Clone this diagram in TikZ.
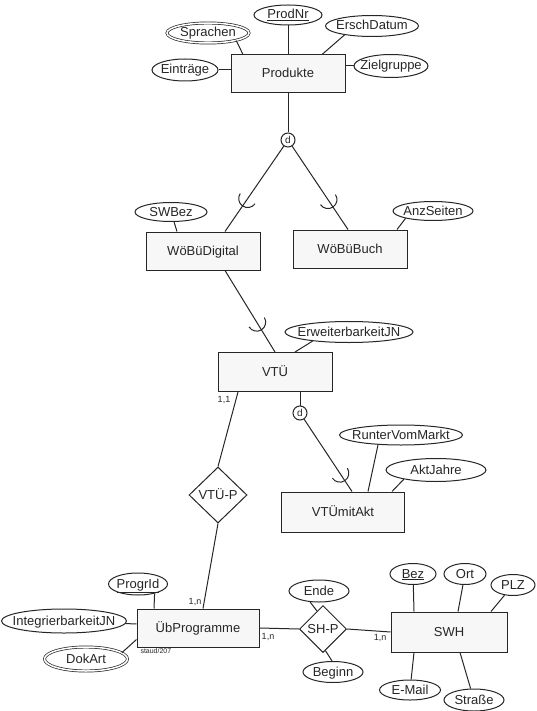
\documentclass[tikz,border=0pt]{standalone}
\usepackage{fontspec}
\setmainfont{Liberation Sans}
\usetikzlibrary{shapes.geometric, calc, decorations.markings}

\begin{document}
\begin{tikzpicture}[
    x=1pt, y=-1pt,
    line width=1pt, color=black!85,
    every node/.style={font=\fontsize{13}{15}\selectfont},
    entity/.style={rectangle, draw, fill=black!3, minimum width=114pt, minimum height=39pt, inner sep=0pt, text height=9pt, text depth=1pt},
    attr/.style={ellipse, draw, fill=white, minimum height=21pt, inner sep=0pt, text height=9pt, text depth=1pt,
        execute at begin node={\hbox to 0pt\bgroup\hss}, execute at end node={\hss\egroup}},
    multi/.style={attr, double, double distance=1.5pt, line width=0.7pt},
    rel/.style={diamond, draw, fill=white, inner sep=0pt, text height=9pt, text depth=1pt},
    disj/.style={circle, draw, fill=white, minimum size=14pt, inner sep=0pt, font=\fontsize{10}{12}\selectfont},
    card/.style={font=\fontsize{9}{11}\selectfont, inner sep=0pt},
    subset/.style={postaction={decorate}, decoration={markings, mark=at position #1 with {\draw (0pt,9pt) arc[start angle=90, delta angle=180, radius=9pt];}}},
]
\useasboundingbox (0,0) rectangle (536,711);

% Produkte with attributes
\node[entity, minimum height=38pt] (prod) at (288,74) {Produkte};
\node[attr, minimum width=68pt, minimum height=20pt] (prodnr) at (288,15) {\underline{ProdNr}};
\node[multi, minimum width=82pt, minimum height=20pt] (sprachen) at (208,33) {Sprachen};
\node[attr, minimum width=93pt] (ersch) at (372,26) {ErschDatum};
\node[attr, minimum width=66pt, minimum height=22pt] (eintr) at (185,70) {Einträge};
\node[attr, minimum width=74pt, minimum height=23pt] (zielgr) at (391,66) {Zielgruppe};

\draw (prodnr) -- (prod);
\draw (sprachen.-15) -- ([xshift=-45pt]prod.north);
\draw (ersch.198) -- ([xshift=34pt]prod.north);
\draw (eintr) -- (eintr -| prod.west);
\draw (zielgr) -- (zielgr -| prod.east);

% Specialisation of Produkte
\node[disj] (d1) at (288,140) {d};
\node[entity, minimum height=38pt] (wbd) at (203,251) {WöBüDigital};
\node[entity, minimum height=38pt] (wbb) at (350,249) {WöBüBuch};
\node[attr, minimum width=72pt, minimum height=19pt] (swbez) at (171,212) {SWBez};
\node[attr, minimum width=80pt, minimum height=19pt] (anzs) at (433,211) {AnzSeiten};

\draw (prod) -- (d1);
\draw[subset=40pt] ([xshift=22pt]wbd.north) -- (d1);
\draw[subset=36pt] ([xshift=-2pt]wbb.north) -- (d1);
\draw (swbez) -- ([xshift=-26pt]wbd.north);
\draw (anzs.195) -- ([xshift=47pt]wbb.north);

% VTÜ and its subclass
\node[entity] (vtu) at (275,372) {VTÜ};
\node[attr, minimum width=128pt] (erw) at (349,332) {ErweiterbarkeitJN};
\node[disj] (d2) at (300,413) {d};
\node[entity, minimum width=123pt, minimum height=40pt] (vtm) at (343,512) {VTÜmitAkt};
\node[attr, minimum width=123pt, minimum height=20pt] (runter) at (401,435) {RunterVomMarkt};
\node[attr, minimum width=100pt, minimum height=23pt] (aktj) at (436,470) {AktJahre};

\draw[subset=35pt] (vtu.north) -- ([xshift=22pt]wbd.south);
\draw (erw.194) -- ([xshift=20pt]vtu.north);
\draw ([xshift=25pt]vtu.south) -- (d2);
\draw[subset=22pt] ([xshift=9pt]vtm.north) -- (d2);
\draw (runter.203) -- ([xshift=25pt]vtm.north);
\draw (aktj.196) -- ([xshift=49pt]vtm.north);

% Relationship VTÜ-P
\node[rel, minimum width=58pt, minimum height=56pt] (vtup) at (218,495) {VTÜ-P};
\node[entity, minimum width=122pt, minimum height=38pt] (ubp) at (198,628) {ÜbProgramme};
\node[card] (c11) at (224,400) {1,1};
\node[card] (c1n) at (195,602) {1,n};

\draw ([xshift=-37pt]vtu.south) -- (vtup.north);
\draw (vtup.south) -- ([xshift=5pt]ubp.north);

% ÜbProgramme attributes
\node[attr, minimum width=59pt, minimum height=22pt] (progid) at (138,584) {\underline{ProgrId}};
\node[attr, minimum width=125pt, minimum height=24pt] (integ) at (64,621) {IntegrierbarkeitJN};
\node[multi, minimum width=83pt, minimum height=24pt] (dokart) at (86,659) {DokArt};
\node[anchor=west, inner sep=0pt, font=\fontsize{7}{8}\selectfont] (staud) at (140,651) {staud/207};

\draw (progid.-30) -- ([xshift=-44pt]ubp.north);
\draw (integ) -- ([yshift=4pt]ubp.west);
\draw (dokart.10) -- ([yshift=8pt]ubp.south west);

% Relationship SH-P
\node[rel, minimum width=47pt, minimum height=47pt] (shp) at (323,629) {SH-P};
\node[attr, minimum width=60pt, minimum height=22pt] (ende) at (319,591) {Ende};
\node[attr, minimum width=60pt] (beginn) at (333,672) {Beginn};
\node[entity, minimum width=116pt, minimum height=40pt] (swh) at (449,632) {SWH};
\node[card] (c1n2) at (268,637) {1,n};
\node[card] (c1n3) at (380,638) {1,n};

\draw (ubp.east) -- (shp.west);
\draw (shp.east) -- (swh.west);
\draw (ende.-129) -- ($(shp.north)!0.25!(shp.west)$);
\draw ($(shp.south)!0.1!(shp.east)$) -- (beginn.95);

% SWH attributes
\node[attr, minimum width=46pt] (bez) at (413,574) {\underline{Bez}};
\node[attr, minimum width=42pt] (ort) at (465,574) {Ort};
\node[attr, minimum width=44pt] (plz) at (513,585) {PLZ};
\node[attr, minimum width=61pt, minimum height=20pt] (email) at (410,690) {E-Mail};
\node[attr, minimum width=60pt, minimum height=22pt] (strasse) at (474,700) {Straße};

\draw (bez) -- ([xshift=-35pt]swh.north);
\draw (ort) -- ([xshift=9pt]swh.north);
\draw (plz) -- ([xshift=42pt]swh.north);
\draw (email) -- ([xshift=-35pt]swh.south);
\draw (strasse) -- ([xshift=11pt]swh.south);

\end{tikzpicture}
\end{document}
